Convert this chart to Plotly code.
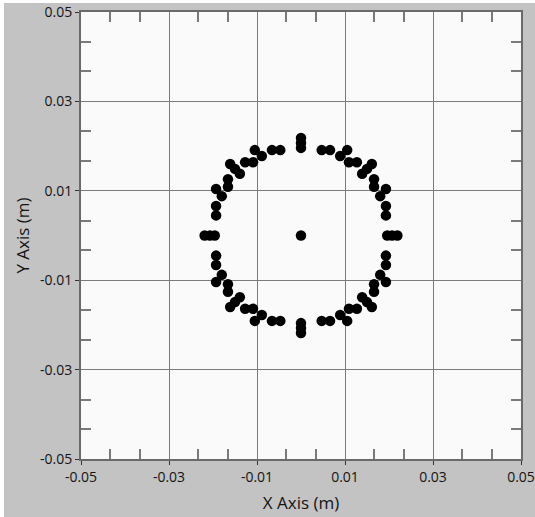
import plotly.graph_objects as go

# ---- data (metres) ----
ring_x = [
    # upper-left
    -0.0047, -0.0066, -0.0089, -0.0105, -0.0109, -0.0127, -0.0139, -0.0150, -0.0161,
    -0.0166, -0.0166, -0.0180, -0.0193, -0.0193, -0.0193,
    # upper-right
    0.0047, 0.0066, 0.0089, 0.0105, 0.0109, 0.0127, 0.0139, 0.0150, 0.0161,
    0.0166, 0.0166, 0.0180, 0.0193, 0.0193, 0.0193,
    # lower-left
    -0.0047, -0.0066, -0.0089, -0.0105, -0.0109, -0.0127, -0.0139, -0.0150, -0.0161,
    -0.0166, -0.0166, -0.0180, -0.0193, -0.0193, -0.0193,
    # lower-right
    0.0047, 0.0066, 0.0089, 0.0105, 0.0109, 0.0127, 0.0139, 0.0150, 0.0161,
    0.0166, 0.0166, 0.0180, 0.0193, 0.0193, 0.0193,
    # top / bottom groups
    0.0, 0.0, 0.0, 0.0, 0.0, 0.0,
    # left / right groups
    -0.0196, -0.0207, -0.0219, 0.0196, 0.0207, 0.0219,
]
ring_y = [
    0.0191, 0.0191, 0.0178, 0.0191, 0.0164, 0.0164, 0.0138, 0.0149, 0.0160,
    0.0126, 0.0109, 0.0088, 0.0104, 0.0066, 0.0045,
    0.0191, 0.0191, 0.0178, 0.0191, 0.0164, 0.0164, 0.0138, 0.0149, 0.0160,
    0.0126, 0.0109, 0.0088, 0.0104, 0.0066, 0.0045,
    -0.0191, -0.0191, -0.0178, -0.0191, -0.0164, -0.0164, -0.0138, -0.0149, -0.0160,
    -0.0126, -0.0109, -0.0088, -0.0104, -0.0066, -0.0045,
    -0.0191, -0.0191, -0.0178, -0.0191, -0.0164, -0.0164, -0.0138, -0.0149, -0.0160,
    -0.0126, -0.0109, -0.0088, -0.0104, -0.0066, -0.0045,
    0.0196, 0.0207, 0.0218, -0.0196, -0.0207, -0.0218,
    0.0, 0.0, 0.0, 0.0, 0.0, 0.0,
]
center_x = [0.0]
center_y = [0.0]

tick_vals = [-0.05, -0.03, -0.01, 0.01, 0.03, 0.05]
tick_text = ["-0.05", "-0.03", "-0.01", "0.01", "0.03", "0.05"]
minor_vals = [-0.0433, -0.0367, -0.0233, -0.0167, -0.0033, 0.0033,
              0.0167, 0.0233, 0.0367, 0.0433]
axis_range = [-0.05, 0.05]

FONT = "Open Sans"
TXT = "#141414"
GRID = "#7c7c7c"
LINE = "#6a6a6a"

fig = go.Figure()
fig.add_trace(go.Scatter(x=ring_x, y=ring_y, mode="markers",
                         marker=dict(color="black", size=10.5),
                         showlegend=False, hoverinfo="x+y"))
fig.add_trace(go.Scatter(x=center_x, y=center_y, mode="markers",
                         xaxis="x2", yaxis="y2",
                         marker=dict(color="black", size=10.5),
                         showlegend=False, hoverinfo="x+y"))

common = dict(range=axis_range, tickmode="array", tickvals=tick_vals, ticktext=tick_text,
              automargin=False,
              showgrid=True, gridcolor=GRID, gridwidth=1, zeroline=False,
              showline=True, linecolor=LINE, linewidth=2, mirror=True,
              ticks="outside", ticklen=4, tickwidth=1, tickcolor="#333333",
              tickfont=dict(family=FONT, size=14, color=TXT),
              minor=dict(tickmode="array", tickvals=minor_vals, ticks="inside",
                         ticklen=10, tickwidth=2, tickcolor="#7a7a7a", showgrid=False),
              fixedrange=True)

sec = dict(range=axis_range, automargin=False, showgrid=False, zeroline=False,
           showline=False, showticklabels=False, tickmode="array", tickvals=minor_vals,
           ticks="inside", ticklen=10, tickwidth=2, tickcolor="#7a7a7a", fixedrange=True)

fig.update_layout(
    template="none",
    width=535, height=517,
    margin=dict(l=81, r=14, t=12, b=58, pad=0),
    paper_bgcolor="#c3c3c3",
    plot_bgcolor="#fafafa",
    showlegend=False,
    xaxis=dict(**common,
               title=dict(text="X Axis (m)", font=dict(family=FONT, size=17, color=TXT),
                          standoff=12)),
    yaxis=dict(**common,
               title=dict(text="Y Axis (m)", font=dict(family=FONT, size=17, color=TXT),
                          standoff=6)),
    xaxis2=dict(**sec, overlaying="x", side="top"),
    yaxis2=dict(**sec, overlaying="y", side="right"),
    shapes=[
        dict(type="rect", xref="paper", yref="paper", x0=-0.3, x1=1.2, y0=1.0201, y1=1.2,
             fillcolor="white", line=dict(width=0), layer="above"),
        dict(type="rect", xref="paper", yref="paper", x0=-0.3, x1=-0.175, y0=-0.3, y1=1.2,
             fillcolor="white", line=dict(width=0), layer="above"),
    ],
)

fig.write_html("out.html")
